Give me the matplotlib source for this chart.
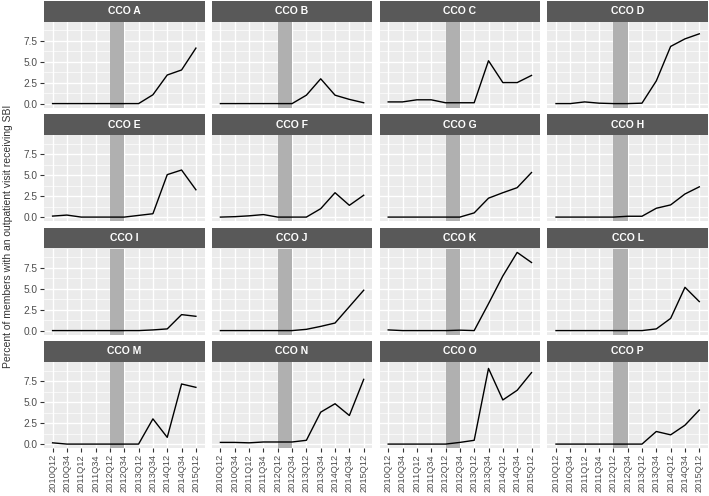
import numpy as np
import matplotlib
matplotlib.use("Agg")
from matplotlib import pyplot as plt

plt.rcParams['font.family'] = ['Liberation Sans', 'DejaVu Sans']

quarters = ["2010Q12", "2010Q34", "2011Q12", "2011Q34", "2012Q12", "2012Q34",
            "2013Q12", "2013Q34", "2014Q12", "2014Q34", "2015Q12"]
cco_names = ["CCO A", "CCO B", "CCO C", "CCO D", "CCO E", "CCO F", "CCO G", "CCO H",
             "CCO I", "CCO J", "CCO K", "CCO L", "CCO M", "CCO N", "CCO O", "CCO P"]

cco_a = [0, 0, 0, 0, 0, 0, 0, 1.05, 3.4, 4.0, 6.6]
cco_b = [0, 0, 0, 0, 0, 0, 1.0, 2.95, 1.0, 0.5, 0.1]
cco_c = [0.2, 0.2, 0.45, 0.45, 0.1, 0.1, 0.1, 5.1, 2.5, 2.5, 3.35]
cco_d = [0, 0, 0.2, 0.05, 0, 0, 0.05, 2.7, 6.8, 7.7, 8.3]
cco_e = [0.12, 0.24, 0, 0, 0, 0, 0.2, 0.4, 5.05, 5.6, 3.25]
cco_f = [0, 0.05, 0.15, 0.3, 0, 0, 0, 1.0, 2.9, 1.4, 2.6]
cco_g = [0, 0, 0, 0, 0, 0, 0.5, 2.25, 2.9, 3.5, 5.3]
cco_h = [0, 0, 0, 0, 0, 0.1, 0.1, 1.05, 1.45, 2.75, 3.6]
cco_i = [0, 0, 0, 0, 0, 0, 0, 0.08, 0.2, 1.9, 1.7]
cco_j = [0, 0, 0, 0, 0, 0, 0.15, 0.5, 0.9, 2.85, 4.8]
cco_k = [0.08, 0, 0, 0, 0, 0.05, 0, 3.2, 6.5, 9.3, 8.1]
cco_l = [0, 0, 0, 0, 0, 0, 0, 0.2, 1.45, 5.15, 3.45]
cco_m = [0.15, 0, 0, 0, 0, 0, 0, 3.0, 0.8, 7.15, 6.75]
cco_n = [0.2, 0.2, 0.15, 0.25, 0.25, 0.25, 0.45, 3.8, 4.8, 3.4, 7.7]
cco_o = [0, 0, 0, 0, 0, 0.2, 0.45, 9.0, 5.25, 6.4, 8.5]
cco_p = [0, 0, 0, 0, 0, 0, 0, 1.5, 1.1, 2.25, 4.05]

series = [cco_a, cco_b, cco_c, cco_d, cco_e, cco_f, cco_g, cco_h,
          cco_i, cco_j, cco_k, cco_l, cco_m, cco_n, cco_o, cco_p]

shade_start, shade_end = "2012Q12", "2012Q34"

W, H = 709, 496
fig = plt.figure(figsize=(W / 100, H / 100), dpi=100)

# layout in pixels
col_left = [44, 211.8, 379.6, 547.4]
panel_w = 160.5
row_top = [0.5, 114, 227.5, 341]
strip_h = 21
panel_h = 86

ymax = max(max(s) for s in series)
pad = 0.05 * ymax
x = np.arange(len(quarters))
x0, x1 = quarters.index(shade_start), quarters.index(shade_end)

for k, (name, vals) in enumerate(zip(cco_names, series)):
    r, c = divmod(k, 4)
    left = col_left[c]
    top = row_top[r]
    # strip
    sax = fig.add_axes([left / W, 1 - (top + strip_h) / H, panel_w / W, strip_h / H])
    sax.set_facecolor('#595959')
    sax.set_xticks([]); sax.set_yticks([])
    for sp in sax.spines.values():
        sp.set_visible(False)
    sax.text(0.5, 0.5, name, color='white', fontweight='bold', fontsize=7.5,
             ha='center', va='center', transform=sax.transAxes)
    # panel
    ax = fig.add_axes([left / W, 1 - (top + strip_h + panel_h) / H, panel_w / W, panel_h / H])
    ax.set_facecolor('#EBEBEB')
    ax.set_axisbelow(True)
    for sp in ax.spines.values():
        sp.set_visible(False)
    ax.set_xlim(-0.6, len(quarters) - 0.4)
    ax.set_ylim(-pad, ymax + pad)
    ax.set_yticks([0, 2.5, 5, 7.5])
    ax.set_yticks([1.25, 3.75, 6.25, 8.75], minor=True)
    ax.set_xticks(x)
    ax.grid(True, which='major', color='white', linewidth=1.0)
    ax.grid(True, which='minor', axis='y', color='white', linewidth=0.5)
    ax.axvspan(x0, x1, color='#b0b0b0', zorder=1.5, linewidth=0)
    ax.plot(x, vals, color='black', linewidth=1.0, zorder=3)
    ax.tick_params(which='major', length=3, width=0.8, color='#333333',
                   labelsize=7.3, labelcolor='#4d4d4d', pad=1.5)
    ax.tick_params(which='minor', length=0)
    if c == 0:
        ax.set_yticklabels(["0.0", "2.5", "5.0", "7.5"])
    else:
        ax.tick_params(axis='y', which='major', length=0, labelleft=False)
    if r == 3:
        ax.set_xticklabels(quarters, rotation=90, fontsize=6.7)
    else:
        ax.tick_params(axis='x', which='major', length=0, labelbottom=False)

fig.text(8 / W, 1 - 236 / H, "Percent of members with an outpatient visit receiving SBI",
         rotation=90, ha='center', va='center', fontsize=7.5, color='#333333')

fig.savefig("out.png", dpi=100)
